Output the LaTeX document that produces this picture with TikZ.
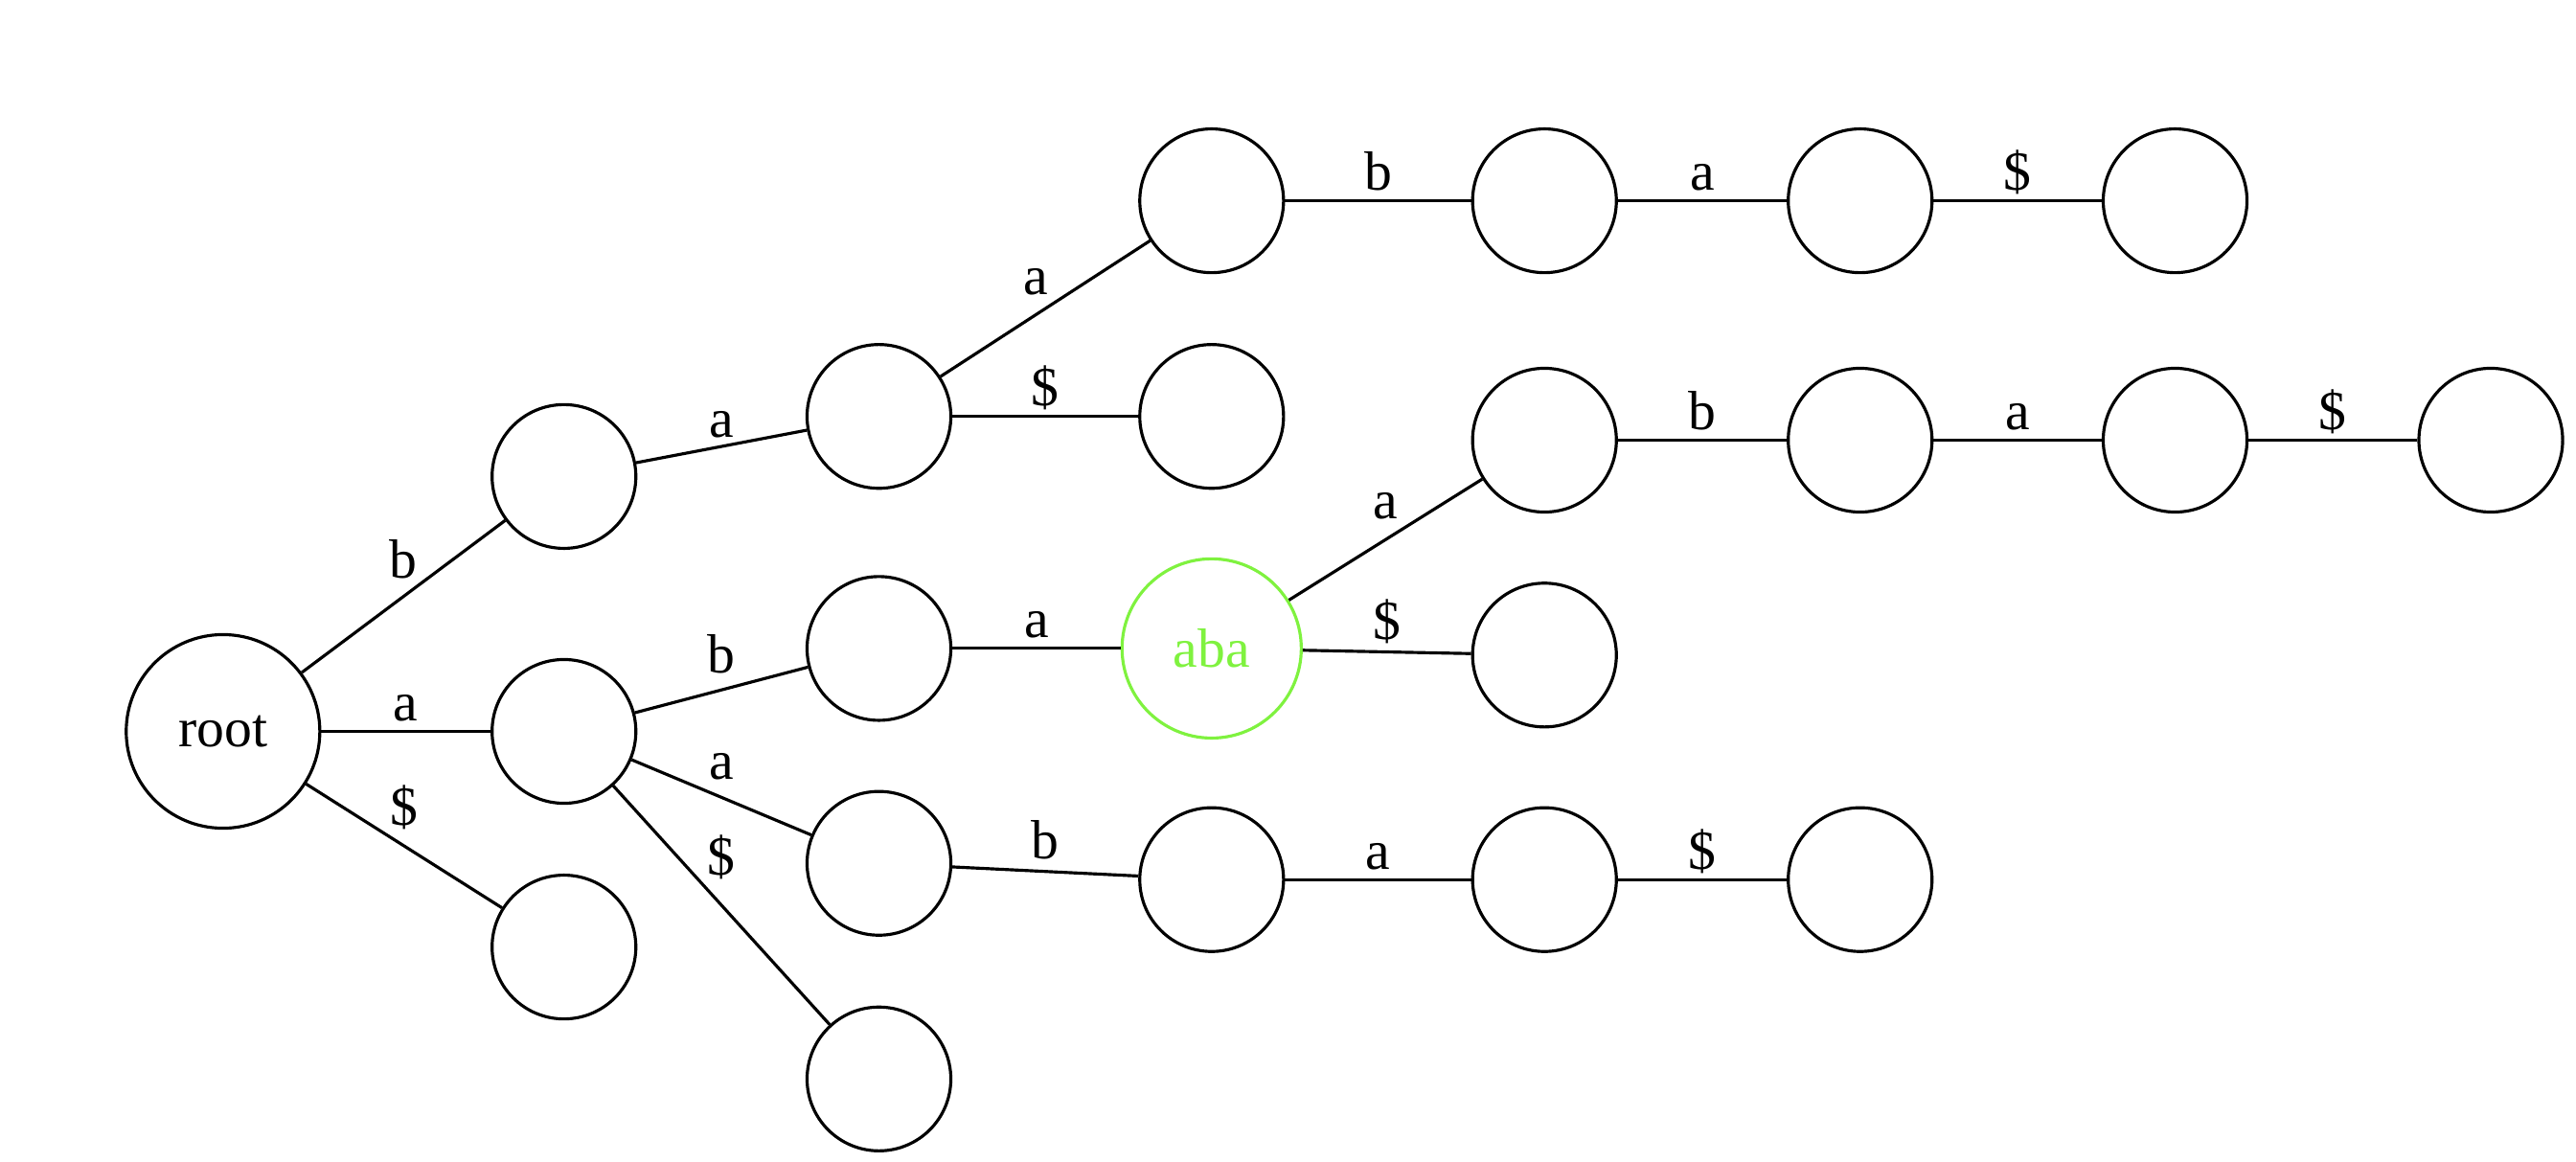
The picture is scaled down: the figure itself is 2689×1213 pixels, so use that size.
\documentclass[tikz,border=0pt]{standalone}
\usepackage{fontspec}
\setmainfont{Liberation Serif}
\definecolor{hlgreen}{HTML}{7FF23F}
\tikzset{
	st/.style={draw, circle, minimum size=1.5cm, inner sep=0pt},
	rootst/.style={st, minimum size=2.02cm},
	hlst/.style={st, draw=hlgreen, text=hlgreen, minimum size=1.87cm},
	lbl/.style={midway, anchor=base, inner sep=0pt, yshift=#1},
	lbl/.default=0.11cm
}
\begin{document}
\begin{tikzpicture}[x=0.01cm, y=-0.01cm, line width=0.9pt, font=\fontsize{16.4}{19}\selectfont]
					\useasboundingbox (0,0) rectangle (2689,1213);
					
					\node[rootst] (r) at (232.8,763.5) {root};
					
					\node[st] (nb) at (588.7,497.4) {};
					\node[st] (na) at (588.7,763.5) {};
					\node[st] (ns) at (588.7,988.6) {};
					
					\node[st] (nba) at (917.5,434.7) {};
					\node[st] (nab) at (917.5,676.9) {};
					\node[st] (naa) at (917.5,901.2) {};
					\node[st] (nas) at (917.5,1126.3) {};
					
					\node[st] (nbaa) at (1264.8,209.6) {};
					\node[st] (nbas) at (1264.8,434.7) {};
					\node[hlst] (naba) at (1264.8,676.9) {aba};
					\node[st] (naab) at (1264.8,918.2) {};
					
					\node[st] (nbaab) at (1612.2,209.6) {};
					\node[st] (nabaa) at (1612.2,459.5) {};
					\node[st] (nabas) at (1612.2,683.8) {};
					\node[st] (naaba) at (1612.2,918.2) {};
					
					\node[st] (nbaaba) at (1941.7,209.6) {};
					\node[st] (nabaab) at (1941.7,459.5) {};
					\node[st] (naabas) at (1941.7,918.2) {};
					
					\node[st] (nbaabas) at (2270.5,209.6) {};
					\node[st] (nabaaba) at (2270.5,459.5) {};
					
					\node[st] (nabaabas) at (2600,459.5) {};
					
					\draw (r) -- (nb) node[lbl=0.19cm] {b};
					\draw (r) -- (na) node[lbl] {a};
					\draw (r) -- (ns) node[lbl=0.21cm] {\$};
					
					\draw (nb) -- (nba) node[lbl=0.1cm] {a};
					\draw (na) -- (nab) node[lbl=0.18cm] {b};
					\draw (na) -- (naa) node[lbl=0.19cm] {a};
					\draw (na) -- (nas) node[lbl=0.31cm] {\$};
					
					\draw (nba) -- (nbaa) node[lbl=0.15cm, xshift=-0.1cm] {a};
					\draw (nba) -- (nbas) node[lbl] {\$};
					\draw (nab) -- (naba) node[lbl] {a};
					\draw (naa) -- (naab) node[lbl=0.13cm] {b};
					
					\draw (nbaa) -- (nbaab) node[lbl] {b};
					\draw (naba) -- (nabaa) node[lbl=0.22cm] {a};
					\draw (naba) -- (nabas) node[lbl=0.13cm] {\$};
					\draw (naab) -- (naaba) node[lbl] {a};
					
					\draw (nbaab) -- (nbaaba) node[lbl] {a};
					\draw (nabaa) -- (nabaab) node[lbl] {b};
					\draw (naaba) -- (naabas) node[lbl] {\$};
					
					\draw (nbaaba) -- (nbaabas) node[lbl] {\$};
					\draw (nabaab) -- (nabaaba) node[lbl] {a};
					
					\draw (nabaaba) -- (nabaabas) node[lbl] {\$};
\end{tikzpicture}
\end{document}
